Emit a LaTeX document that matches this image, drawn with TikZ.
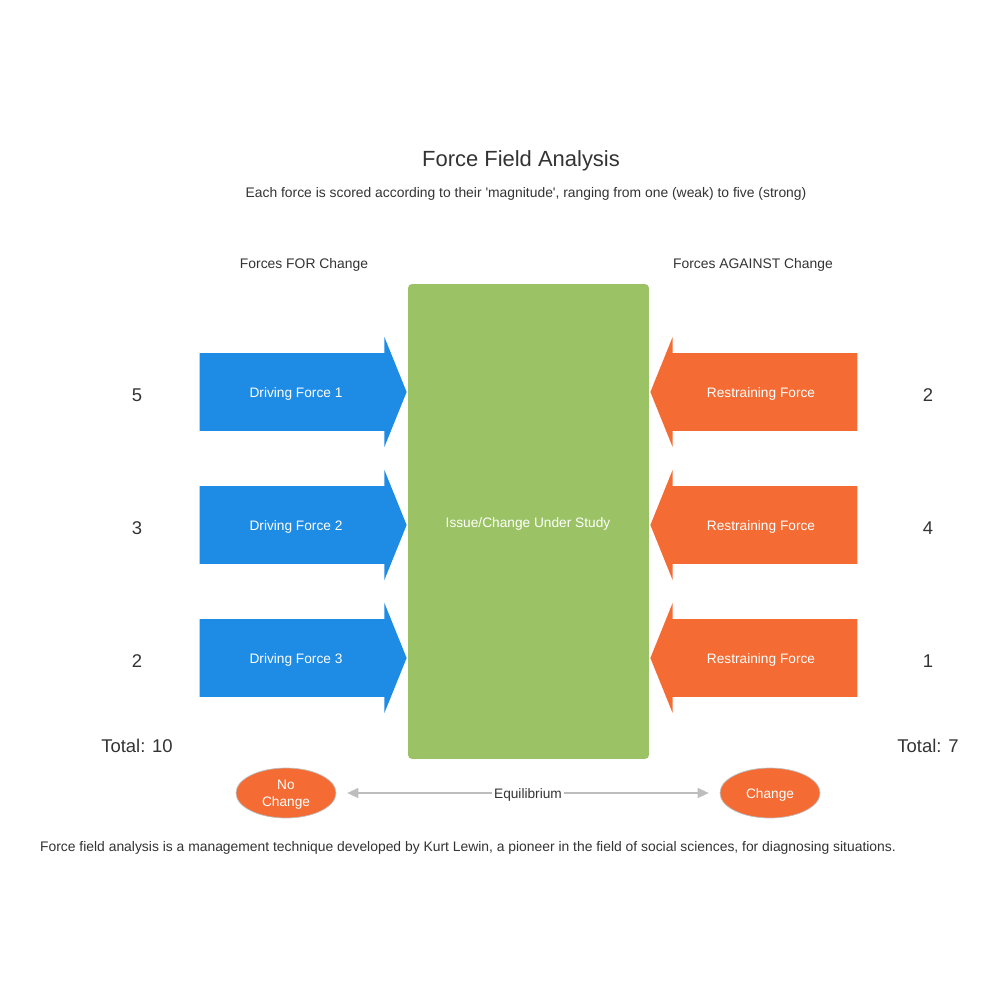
\documentclass[tikz,border=0pt]{standalone}
\usepackage{fontspec}
\setmainfont{Liberation Sans}
\usepackage{tikz}
\usetikzlibrary{positioning,shapes.arrows,shapes.geometric,arrows.meta}

\definecolor{drivblue}{HTML}{1E8BE5}
\definecolor{restorange}{HTML}{F46B33}
\definecolor{issuegreen}{HTML}{9BC365}
\definecolor{txtgray}{HTML}{333333}
\definecolor{linegray}{HTML}{BDBDBD}

\tikzset{
  force/.style={single arrow, draw=none, inner xsep=0pt, inner ysep=0.77cm, anchor=tip,
    minimum height=4.14cm,
    single arrow head extend=0.32cm, single arrow tip angle=136},
  driving/.style={force, fill=drivblue},
  restraining/.style={force, fill=restorange, shape border rotate=180},
  forcetext/.style={text=white, font=\fontsize{7.8}{9.4}\selectfont},
  score/.style={text=txtgray, font=\fontsize{10.5}{12.6}\selectfont},
  caption/.style={text=txtgray, font=\fontsize{7.9}{9.5}\selectfont},
  outcome/.style={ellipse, fill=restorange, draw=linegray, line width=0.4pt,
    minimum width=2cm, minimum height=1cm, inner sep=0pt, align=center,
    text=white, font=\fontsize{7.8}{9.7}\selectfont},
}

\begin{document}
\begin{tikzpicture}[x=0.02cm,y=-0.02cm]
\useasboundingbox (0,0) rectangle (1000,1000);

% headings
\node[text=txtgray, font=\fontsize{12.5}{15}\selectfont] (title) at (521,161) {Force Field Analysis};
\node[caption] (subtitle) at (526,194) {Each force is scored according to their \textquotesingle magnitude\textquotesingle, ranging from one (weak) to five (strong)};
\node[caption] (forhead) at (304,265) {Forces FOR Change};
\node[caption] (againsthead) at (753,265) {Forces AGAINST Change};

% issue under study
\node[fill=issuegreen, rounded corners=0.08cm, minimum width=4.82cm, minimum height=9.5cm] (issue) at (528.5,521.5) {};
\node[forcetext] (issuetext) at (528,524) {Issue/Change Under Study};

% forces
\foreach \i/\y/\s/\r in {1/392/5/2, 2/525/3/4, 3/658/2/1}{
  \node[driving] (df\i) at (407,\y) {};
  \node[forcetext] (dft\i) at (296,\y+2) {Driving Force \i};
  \node[score] (ds\i) at (137,\y+3) {\s};
  \node[restraining] (rf\i) at (650,\y) {};
  \node[forcetext] (rft\i) at (761,\y+2) {Restraining Force};
  \node[score] (rs\i) at (928,\y+3) {\r};
}

\node[score] (dtotal) at (137,746) {Total: 10};
\node[score] (rtotal) at (928,746) {Total: 7};

% equilibrium
\node[outcome] (nochange) at (286,793) {};
\node[forcetext, align=center, font=\fontsize{7.8}{9.7}\selectfont] (nochangetext) at (286,795) {No\\Change};
\node[outcome] (change) at (770,793) {};
\node[forcetext] (changetext) at (770,795) {Change};
\draw[linegray, line width=0.6pt, shorten <=0.22cm, shorten >=0.22cm,
      {Triangle[length=0.22cm,width=0.2cm]}-{Triangle[length=0.22cm,width=0.2cm]}]
  (nochange) -- coordinate[pos=0.5] (equilmid) (change);
\node[fill=white, inner sep=1pt, text=txtgray, font=\fontsize{7.8}{9.4}\selectfont] (equil) at ([yshift=-0.04cm]equilmid) {Equilibrium};

\node[caption] (note) at (468,848) {Force field analysis is a management technique developed by Kurt Lewin, a pioneer in the field of social sciences, for diagnosing situations.};
\end{tikzpicture}
\end{document}
